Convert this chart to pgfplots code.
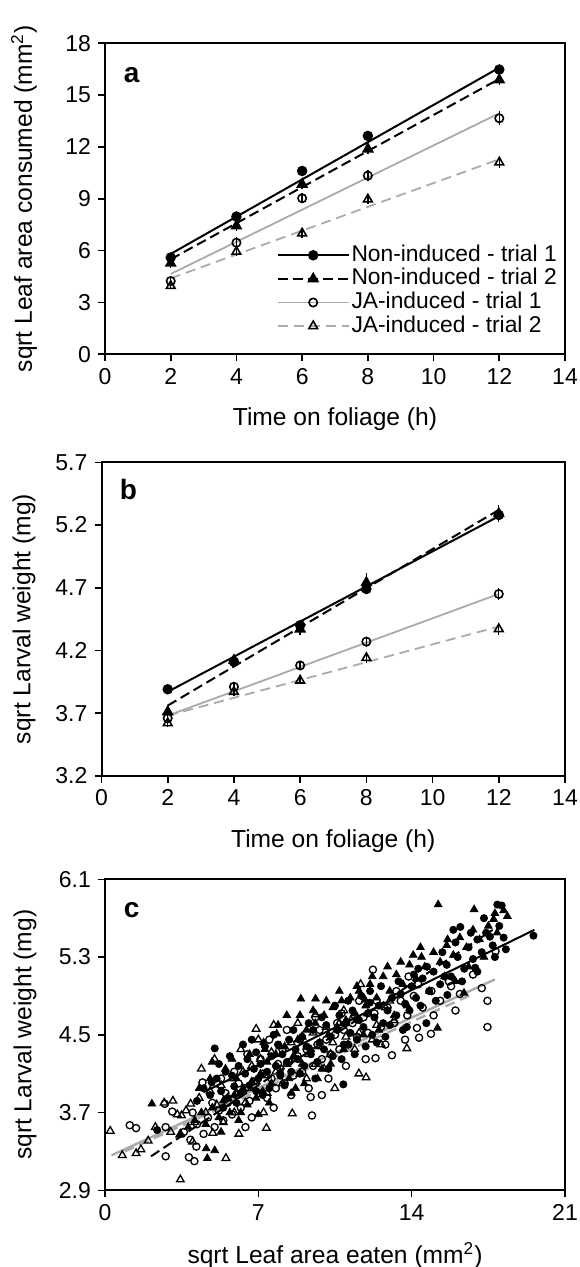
\documentclass[border=0pt]{standalone}
\usepackage{fontspec}
\setmainfont{Liberation Sans}
\usepackage{pgfplots}
\pgfplotsset{compat=1.18}

\definecolor{lgray}{RGB}{170,170,170}
\tikzset{plab/.style={font=\bfseries\fontsize{14}{16}\selectfont}}

\pgfplotsset{
  panel/.style={
    scale only axis, anchor=north west,
    axis line style={line width=1pt},
    tick align=outside, xtick pos=bottom, ytick pos=left,
    major tick length=3.5pt, tick style={black, line width=0.8pt},
    tick label style={font=\fontsize{11.5}{13}\selectfont},
    /pgf/number format/assume math mode=true,
    every axis x label/.style={at={(axis description cs:0.5,-0.209)}, anchor=center, font=\fontsize{12.3}{14}\selectfont},
    clip=false,
  },
  ylab/.style={every axis y label/.style={at={(axis description cs:#1,0.5)}, anchor=center, rotate=90, font=\fontsize{12.3}{14}\selectfont}},
  ni1/.style={black, line width=1pt, mark=*, mark size=2.1pt, mark options={solid, fill=black}},
  ni2/.style={black, line width=1pt, dash pattern=on 5pt off 2.5pt, mark=triangle*, mark size=2.5pt, mark options={solid, fill=black}},
  ja1/.style={lgray, line width=0.9pt, mark=o, mark size=2.1pt, mark options={solid, draw=black, fill=white, line width=0.8pt}},
  ja2/.style={lgray, line width=0.9pt, dash pattern=on 5pt off 3pt, mark=triangle, mark size=2.5pt, mark options={solid, draw=black, fill=white, line width=0.8pt}},
  ebar/.style={only marks, error bars/y dir=both, error bars/y explicit,
    error bars/error bar style={line width=0.7pt, solid, black}, error bars/error mark=none},
}

\begin{document}
\begin{tikzpicture}
\useasboundingbox (0,0) rectangle (289.5pt,-633.5pt);

% ---------------- panel a ----------------
\begin{axis}[panel, ylab=-0.176, at={(52.5pt,-21.65pt)}, width=230pt, height=155.5pt,
  xmin=0, xmax=14, ymin=0, ymax=18,
  xtick={0,2,4,6,8,10,12,14}, ytick={0,3,6,9,12,15,18},
  xlabel={Time on foliage (h)},
  ylabel={sqrt Leaf area consumed (mm\textsuperscript{2})},
  legend style={at={(1,0)}, anchor=south east, xshift=-3pt, yshift=8pt,
    draw=none, fill=none, font=\fontsize{11.4}{13}\selectfont,
    inner sep=0pt, row sep=0pt,
    nodes={inner sep=0.9pt, text height=8pt, text depth=2pt}},
  legend cell align=left,
  legend image code/.code={\draw[mark repeat=2,mark phase=2] plot coordinates {(0pt,0pt) (17.75pt,0pt) (35.5pt,0pt)};},
]
\addlegendimage{ni1}\addlegendentry{Non-induced - trial 1}
\addlegendimage{ni2}\addlegendentry{Non-induced - trial 2}
\addlegendimage{ja1}\addlegendentry{JA-induced - trial 1}
\addlegendimage{ja2}\addlegendentry{JA-induced - trial 2}
% fitted lines
\addplot[ja2, mark=none, forget plot] coordinates {(2,4.40) (12,11.29)};
\addplot[ja1, mark=none, forget plot] coordinates {(2,4.65) (12,13.95)};
\addplot[ni2, mark=none, forget plot] coordinates {(2,5.50) (12,15.94)};
\addplot[ni1, mark=none, forget plot] coordinates {(2,5.81) (12,16.59)};
% means +- se
\addplot[ja2, ebar, forget plot] coordinates {
 (2,3.96) +- (0,0.2) (4,5.94) +- (0,0.25) (6,7.00) +- (0,0.25) (8,8.97) +- (0,0.3) (12,11.11) +- (0,0.3)};
\addplot[ja1, ebar, forget plot] coordinates {
 (2,4.24) +- (0,0.2) (4,6.46) +- (0,0.3) (6,9.03) +- (0,0.3) (8,10.34) +- (0,0.3) (12,13.66) +- (0,0.4)};
\addplot[ni2, ebar, forget plot] coordinates {
 (2,5.27) +- (0,0.25) (4,7.43) +- (0,0.3) (6,9.84) +- (0,0.3) (8,11.88) +- (0,0.3) (12,15.88) +- (0,0.3)};
\addplot[ni1, ebar, forget plot] coordinates {
 (2,5.60) +- (0,0.25) (4,7.97) +- (0,0.3) (6,10.61) +- (0,0.3) (8,12.64) +- (0,0.3) (12,16.48) +- (0,0.3)};
\node[plab] at (rel axis cs:0.058,0.898) {a};
\end{axis}

% ---------------- panel b ----------------
\begin{axis}[panel, ylab=-0.167, at={(50.75pt,-231.15pt)}, width=231.75pt, height=156.75pt,
  xmin=0, xmax=14, ymin=3.2, ymax=5.7,
  xtick={0,2,4,6,8,10,12,14},
  ytick={3.2,3.7,4.2,4.7,5.2,5.7}, yticklabels={3.2,3.7,4.2,4.7,5.2,5.7},
  xlabel={Time on foliage (h)},
  ylabel={sqrt Larval weight (mg)},
]
\addplot[ja2, mark=none] coordinates {(2,3.68) (12,4.39)};
\addplot[ja1, mark=none] coordinates {(2,3.68) (12,4.65)};
\addplot[ni2, mark=none] coordinates {(2,3.76) (12,5.32)};
\addplot[ni1, mark=none] coordinates {(2,3.87) (12,5.27)};
\addplot[ja2, ebar] coordinates {
 (2,3.62) +- (0,0.03) (4,3.87) +- (0,0.03) (6,3.96) +- (0,0.03) (8,4.14) +- (0,0.04) (12,4.37) +- (0,0.05)};
\addplot[ja1, ebar] coordinates {
 (2,3.66) +- (0,0.03) (4,3.91) +- (0,0.03) (6,4.08) +- (0,0.03) (8,4.27) +- (0,0.04) (12,4.65) +- (0,0.05)};
\addplot[ni2, ebar] coordinates {
 (2,3.71) +- (0,0.04) (4,4.12) +- (0,0.04) (6,4.37) +- (0,0.05) (8,4.74) +- (0,0.08) (12,5.29) +- (0,0.07)};
\addplot[ni1, ebar] coordinates {
 (2,3.89) +- (0,0.03) (4,4.11) +- (0,0.03) (6,4.40) +- (0,0.04) (8,4.69) +- (0,0.04) (12,5.28) +- (0,0.05)};
\node[plab] at (rel axis cs:0.058,0.912) {b};
\end{axis}

% ---------------- panel c ----------------
\begin{axis}[panel, ylab=-0.174, at={(52.5pt,-439.65pt)}, width=230pt, height=155.5pt,
  xmin=0, xmax=21, ymin=2.9, ymax=6.1,
  xtick={0,7,14,21},
  ytick={2.9,3.7,4.5,5.3,6.1}, yticklabels={2.9,3.7,4.5,5.3,6.1},
  xlabel={sqrt Leaf area eaten (mm\textsuperscript{2})},
  ylabel={sqrt Larval weight (mg)},
  cmk/.style={only marks, mark size=1.8pt},
]
% JA-induced trial 2
\addplot[cmk, mark=triangle, mark size=2.2pt, mark options={draw=black, fill=white, line width=0.65pt}] coordinates {
 (0.24,3.51) (0.79,3.26) (1.42,3.28) (1.64,3.32) (1.97,3.41) (3.10,3.82) (3.44,3.48) (3.44,3.01)
 (5.52,3.23) (6.90,4.56) (11.67,5.02) (9.61,4.71) (13.78,4.36) (11.59,4.10) (11.92,4.06)
 (10.49,3.95) (8.55,3.69) (7.37,3.54) (6.11,3.48) (7.24,3.70) (3.91,3.79) (3.49,3.67)
 (4.92,3.49) (4.0,3.40)
 (2.7,3.80) (3.3,3.68) (3.7,3.72) (4.1,3.60) (4.3,3.85) (4.6,3.70) (4.8,3.92) (5.1,3.78)
 (5.3,3.98) (5.6,3.85) (5.8,4.05) (6.0,3.90) (6.3,4.12) (6.5,3.95) (6.7,4.18) (6.9,4.02)
 (7.1,4.25) (7.3,4.08) (7.6,4.32) (7.8,4.12) (8.0,4.38) (8.3,4.20) (8.5,4.42) (8.7,4.25)
 (9.0,4.48) (9.3,4.30) (9.5,4.52) (9.8,4.38) (10.1,4.58) (10.4,4.42) (10.7,4.62) (11.0,4.48)
 (11.3,4.68) (11.6,4.52) (12.0,4.72) (12.4,4.60) (12.8,4.78) (13.2,4.65) (4.4,4.15) (5.0,4.25)
 (7.0,4.45) (8.8,4.62) (9.2,4.05) (10.0,4.15) (12.6,4.40)
 (2.3,3.55) (3.0,3.50) (5.4,3.60) (5.9,3.70) (6.4,3.80) (7.4,3.90) (8.1,4.00) (8.9,4.10)
 (9.6,4.20) (10.3,4.30) (10.9,4.75) (11.4,4.35) (12.2,4.45) (13.0,4.85) (6.2,4.35) (7.7,4.60)};
% JA-induced trial 1
\addplot[cmk, mark=o, mark options={draw=black, fill=white, line width=0.65pt}] coordinates {
 (1.13,3.57) (1.42,3.54) (2.77,3.25) (2.73,3.79) (2.77,3.55) (3.07,3.71) (3.83,3.24) (4.08,3.20)
 (4.17,3.35) (4.45,4.01) (6.41,3.55) (12.23,5.17) (13.86,5.10) (17.83,5.36) (17.46,4.85)
 (17.46,4.58) (15.80,5.00) (14.34,4.47) (13.1,4.29) (12.35,4.26) (9.9,3.88) (9.45,3.67)
 (9.39,3.86) (14.88,4.51) (14.24,4.57)
 (3.6,3.50) (3.9,3.42) (4.2,3.58) (4.5,3.48) (4.7,3.65) (5.0,3.55) (5.2,3.72) (5.4,3.62)
 (5.6,3.80) (5.8,3.68) (6.0,3.88) (6.2,3.75) (6.4,3.95) (6.6,3.82) (6.8,4.02) (7.0,3.90)
 (7.2,4.10) (7.4,3.85) (7.6,4.05) (7.8,3.95) (8.0,4.15) (8.2,4.00) (8.4,4.22) (8.6,4.08)
 (8.8,4.28) (9.0,4.12) (9.2,4.35) (9.5,4.18) (9.7,4.40) (9.9,4.25) (10.1,4.45) (10.3,4.30)
 (10.5,4.50) (10.7,4.35) (10.9,4.55) (11.1,4.40) (11.3,4.62) (11.5,4.48) (11.8,4.68) (12.0,4.52)
 (12.3,4.72) (12.6,4.58) (12.9,4.78) (13.2,4.62) (13.5,4.85) (13.8,4.70) (14.1,4.90) (14.5,4.78)
 (14.9,4.95) (15.3,4.85) (15.7,5.05) (16.2,4.92) (16.8,5.12) (17.2,4.98) (6.5,4.30) (5.9,4.12)
 (5.3,4.05) (7.5,4.45) (8.3,4.55) (9.6,4.68) (11.6,4.85)
 (4.0,3.70) (4.9,3.80) (5.5,3.90) (6.1,4.00) (6.7,3.65) (7.1,4.25) (7.7,3.75) (8.1,4.35)
 (8.5,3.88) (8.9,4.45) (9.3,3.95) (9.8,4.55) (10.2,4.05) (10.6,4.62) (11.0,4.18) (11.4,4.70)
 (11.9,4.25) (12.4,4.85) (12.8,4.40) (13.3,4.95) (13.7,4.45) (14.3,5.02) (15.0,4.70) (16.0,4.75)
 (10.8,4.72) (7.9,4.20)};
% Non-induced trial 1
\addplot[cmk, mark=*, black] coordinates {
 (2.38,3.52) (4.87,4.01) (5.01,4.36) (10.88,3.99) (12.09,4.83) (13.78,4.58) (14.67,4.62)
 (15.63,4.91) (16.9,5.19) (19.56,5.52) (17.91,5.84) (18.11,5.83) (16.22,5.61) (17.57,5.51)
 (4.2,3.82) (4.5,3.95) (4.8,3.88) (5.1,4.05) (5.3,3.92) (5.5,4.12) (5.6,3.85) (5.8,4.08)
 (5.9,3.97) (6.1,4.18) (6.2,3.90) (6.4,4.10) (6.5,4.25) (6.6,3.98) (6.8,4.15) (6.9,4.32)
 (7.0,4.05) (7.1,4.20) (7.3,4.38) (7.4,4.12) (7.5,3.95) (7.6,4.28) (7.8,4.18) (7.9,4.40)
 (8.0,4.08) (8.1,4.30) (8.3,4.22) (8.4,4.45) (8.5,4.12) (8.7,4.35) (8.8,4.25) (9.0,4.48)
 (9.1,4.18) (9.2,4.38) (9.4,4.30) (9.5,4.55) (9.7,4.22) (9.8,4.42) (10.0,4.35) (10.1,4.60)
 (10.3,4.48) (10.4,4.28) (10.6,4.55) (10.7,4.70) (10.9,4.40) (11.0,4.62) (11.2,4.52) (11.3,4.75)
 (11.5,4.45) (11.6,4.65) (11.8,4.58) (12.0,4.72) (12.2,4.50) (12.3,4.68) (12.5,4.80) (12.7,4.62)
 (12.9,4.75) (13.1,4.88) (13.3,4.70) (13.5,4.92) (13.7,4.82) (14.0,5.00) (14.2,4.88) (14.5,5.08)
 (14.8,4.95) (15.0,5.15) (15.3,5.02) (15.6,5.22) (15.8,5.10) (16.1,5.30) (16.4,5.18) (16.6,5.40)
 (16.8,5.28) (17.0,5.48) (17.2,5.35) (17.4,5.55) (17.7,5.42) (18.0,5.62) (18.2,5.50) (17.8,5.30)
 (16.0,5.45) (15.4,5.35) (14.3,5.18) (15.9,5.58)
 (5.2,4.20) (5.7,4.28) (6.0,3.80) (6.3,4.40) (6.7,4.45) (7.2,3.88) (7.7,4.50) (8.2,3.98)
 (8.6,4.55) (8.9,4.10) (9.3,4.62) (9.6,4.05) (9.9,4.68) (10.2,4.15) (10.5,4.80) (10.8,4.25)
 (11.1,4.85) (11.4,4.30) (11.7,4.90) (11.9,4.38) (12.1,4.95) (12.4,4.42) (12.6,5.00) (12.8,4.48)
 (13.0,4.60) (13.4,5.05) (13.6,4.55) (13.9,4.75) (14.1,5.12) (14.4,4.80) (14.7,5.20) (15.1,4.85)
 (15.5,5.10) (16.3,5.05) (16.7,5.55) (17.3,5.70) (18.3,5.38) (17.0,5.15) (6.9,3.92) (5.4,3.75)};
% Non-induced trial 2
\addplot[cmk, mark=triangle*, black, mark size=2.2pt] coordinates {
 (2.14,3.79) (3.41,3.47) (4.67,3.23) (5.01,3.31) (4.62,3.33) (4.89,4.22) (7.24,4.42) (7.84,4.51)
 (8.94,4.87) (9.61,4.87) (15.21,5.84) (16.85,5.79) (17.74,5.69) (18.37,5.72) (18.2,5.78)
 (14.07,5.32) (14.45,5.30) (15.18,4.57) (16.39,4.93) (15.64,5.48) (11.87,4.86)
 (3.8,3.55) (4.1,3.62) (4.4,3.70) (4.6,3.58) (4.9,3.75) (5.2,3.65) (5.4,3.82) (5.7,3.70)
 (5.9,3.88) (6.1,3.62) (6.3,3.95) (6.5,3.78) (6.7,4.02) (6.9,3.85) (7.1,4.10) (7.2,3.92)
 (7.4,4.22) (7.6,4.00) (7.8,4.30) (8.0,4.12) (8.2,4.38) (8.4,4.05) (8.6,4.28) (8.8,4.45)
 (9.0,4.20) (9.2,4.55) (9.4,4.35) (9.6,4.62) (9.8,4.42) (10.0,4.70) (10.2,4.50) (10.4,4.78)
 (10.6,4.58) (10.8,4.85) (11.0,4.65) (11.2,4.88) (11.4,4.72) (11.6,4.95) (11.9,4.80) (12.1,5.02)
 (12.4,4.88) (12.7,5.10) (13.0,4.95) (13.3,5.12) (13.6,5.02) (13.9,5.22) (14.2,5.08) (14.6,5.20)
 (15.0,5.35) (15.3,5.25) (15.6,5.42) (15.9,5.32) (16.2,5.50) (16.5,5.40) (16.8,5.58) (17.1,5.48)
 (17.5,5.62) (17.9,5.55) (16.0,5.05) (12.5,4.55) (10.9,4.35) (9.9,4.15) (8.7,3.95) (7.0,3.68)
 (6.0,4.05) (5.5,4.15)
 (4.3,3.95) (4.8,4.05) (5.3,3.50) (5.8,4.25) (6.2,3.70) (6.6,4.30) (7.3,4.35) (7.5,3.80)
 (7.9,4.60) (8.3,4.70) (8.5,3.90) (8.9,4.70) (9.1,4.00) (9.5,4.75) (9.7,4.05) (10.1,4.85)
 (10.3,4.20) (10.7,4.95) (11.1,4.40) (11.5,5.00) (11.8,4.50) (12.2,5.10) (12.9,5.20) (13.2,4.70)
 (13.5,5.25) (13.8,4.80) (14.4,5.40) (14.8,4.95) (15.5,5.10) (16.6,5.20) (17.3,5.30) (17.8,5.75)};
% fitted lines
\addplot[lgray, line width=1.2pt] coordinates {(0.3,3.26) (17.8,5.07)};
\addplot[lgray, line width=1.2pt, dash pattern=on 5pt off 3pt] coordinates {(0.9,3.30) (16.8,4.92)};
\addplot[black, line width=1pt, dash pattern=on 5pt off 2.5pt] coordinates {(2.1,3.25) (17.7,5.58)};
\addplot[black, line width=1pt] coordinates {(4.5,3.91) (19.6,5.58)};
\node[plab] at (rel axis cs:0.058,0.901) {c};
\end{axis}
\end{tikzpicture}
\end{document}
